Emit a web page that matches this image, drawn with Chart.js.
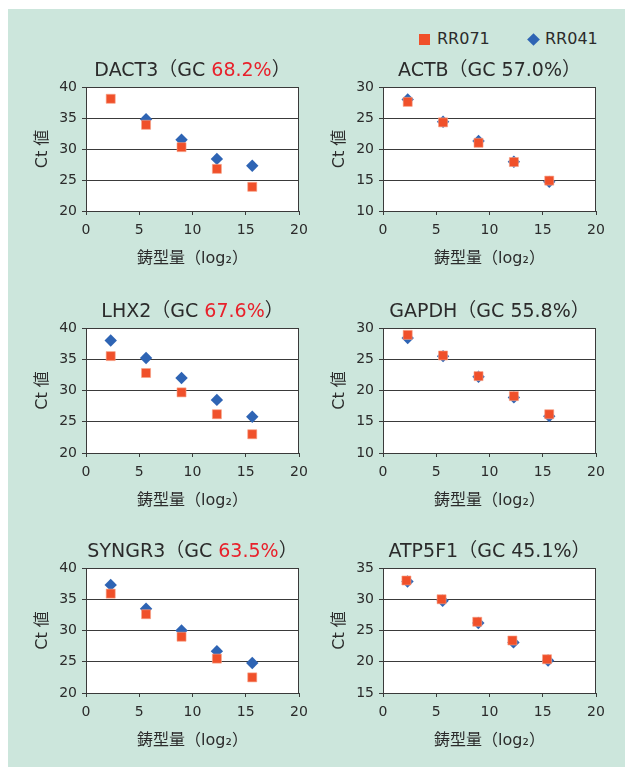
<!DOCTYPE html>
<html lang="ja">
<head>
<meta charset="utf-8">
<title>鋳型量とCt値</title>
<script src="https://cdn.jsdelivr.net/npm/chart.js@4.4.1/dist/chart.umd.min.js"></script>
<style>
  html, body { margin: 0; padding: 0; background: #ffffff; }
  #page { position: relative; width: 625px; height: 767px; overflow: hidden;
          font-family: "DejaVu Sans", "Noto Sans CJK JP", sans-serif; }
  #panel { position: absolute; left: 8px; top: 9px; right: 0; bottom: 0; background: #cce6dc; }
  .chartBox { position: absolute; width: 300px; }
  .chartBox canvas { display: block; }
  .legend { position: absolute; top: 29px; font-size: 16px; color: #2b2b2b; line-height: 20px; }
  .legend span.sym { position: absolute; }
</style>
</head>
<body>
<div id="page">
  <div id="panel"></div>

  <div class="legend" style="left:419px;">
    <span class="sym" style="left:0; top:5px; width:11px; height:11px; background:#f0502a;"></span>
    <span style="position:absolute; left:18px; top:0;">RR071</span>
  </div>
  <div class="legend" style="left:528px;">
    <span class="sym" style="left:1px; top:6px; width:9px; height:9px; background:#2e64b4; transform:rotate(45deg);"></span>
    <span style="position:absolute; left:17px; top:0;">RR041</span>
  </div>

  <div class="chartBox" style="left:20px;  top:50px;"><canvas id="c1" width="300" height="221"></canvas></div>
  <div class="chartBox" style="left:317px; top:50px;"><canvas id="c2" width="300" height="221"></canvas></div>
  <div class="chartBox" style="left:20px;  top:291px;"><canvas id="c3" width="300" height="222"></canvas></div>
  <div class="chartBox" style="left:317px; top:291px;"><canvas id="c4" width="300" height="222"></canvas></div>
  <div class="chartBox" style="left:20px;  top:531px;"><canvas id="c5" width="300" height="222"></canvas></div>
  <div class="chartBox" style="left:317px; top:531px;"><canvas id="c6" width="300" height="222"></canvas></div>
</div>

<script>
// Template amount (log2) for the 5-point dilution series
const templateLog2 = [2.32, 5.64, 8.97, 12.29, 15.61];
const atp5f1Log2RR071 = [2.2, 5.5, 8.85, 12.15, 15.4];
const atp5f1Log2RR041 = [2.3, 5.6, 8.95, 12.25, 15.5];

// Ct values per gene
const dact3RR071 = [38.1, 33.9, 30.3, 26.8, 23.9];
const dact3RR041 = [null, 34.8, 31.5, 28.4, 27.3];
const actbRR071  = [27.6, 24.3, 21.0, 17.9, 14.9];
const actbRR041  = [28.0, 24.4, 21.3, 17.95, 14.7];
const lhx2RR071  = [35.5, 32.8, 29.7, 26.2, 23.0];
const lhx2RR041  = [38.0, 35.2, 32.0, 28.5, 25.8];
const gapdhRR071 = [28.9, 25.6, 22.3, 19.1, 16.2];
const gapdhRR041 = [28.4, 25.5, 22.2, 18.9, 15.9];
const syngr3RR071 = [35.9, 32.6, 29.0, 25.5, 22.5];
const syngr3RR041 = [37.3, 33.5, 30.0, 26.7, 24.8];
const atp5f1RR071 = [33.0, 30.0, 26.4, 23.4, 20.4];
const atp5f1RR041 = [32.85, 29.75, 26.2, 23.1, 20.2];

// Gene titles: name part and GC content (high-GC genes shown in red)
const geneNames = ["DACT3", "ACTB", "LHX2", "GAPDH", "SYNGR3", "ATP5F1"];
const gcContent = ["68.2%", "57.0%", "67.6%", "55.8%", "63.5%", "45.1%"];
const gcHighlight = [true, false, true, false, true, false];

// Y axis ranges
const yMin = [20, 10, 20, 10, 20, 15];
const yMax = [40, 30, 40, 30, 40, 35];

const seriesNames = ["RR071", "RR041"];
const xAxisTitle = "鋳型量（log₂）";
const yAxisTitle = "Ct 値";

const FONT = '"DejaVu Sans", "Noto Sans CJK JP", sans-serif';
const TEXT = '#2b2b2b';
const RED = '#e8212b';

const panels = [
  { id: 'c1', x071: templateLog2, y071: dact3RR071, x041: templateLog2, y041: dact3RR041 },
  { id: 'c2', x071: templateLog2, y071: actbRR071,  x041: templateLog2, y041: actbRR041 },
  { id: 'c3', x071: templateLog2, y071: lhx2RR071,  x041: templateLog2, y041: lhx2RR041 },
  { id: 'c4', x071: templateLog2, y071: gapdhRR071, x041: templateLog2, y041: gapdhRR041 },
  { id: 'c5', x071: templateLog2, y071: syngr3RR071, x041: templateLog2, y041: syngr3RR041 },
  { id: 'c6', x071: atp5f1Log2RR071, y071: atp5f1RR071, x041: atp5f1Log2RR041, y041: atp5f1RR041 },
];

function toPoints(xs, ys) {
  return xs.map((x, i) => ({ x: x, y: ys[i] }));
}

// White plot area with a dark frame, plus a two-colour title above it
const plotFrame = {
  id: 'plotFrame',
  beforeDraw(chart) {
    const { ctx, chartArea: a } = chart;
    ctx.save();
    ctx.fillStyle = '#ffffff';
    ctx.fillRect(a.left, a.top, a.right - a.left, a.bottom - a.top);
    ctx.restore();
  },
  afterDraw(chart, args, opts) {
    const { ctx, chartArea: a } = chart;
    ctx.save();
    ctx.strokeStyle = '#3a3a3a';
    ctx.lineWidth = 1;
    ctx.strokeRect(Math.round(a.left) + 0.5, Math.round(a.top) + 0.5,
                   Math.round(a.right - a.left) - 1, Math.round(a.bottom - a.top));
    // Title: "NAME（GC " in dark, value in red if highlighted, then "）"
    const parts = [
      { t: opts.name + '（GC ', c: TEXT },
      { t: opts.gc, c: opts.highlight ? RED : TEXT },
      { t: '）', c: TEXT },
    ];
    ctx.font = '19px ' + FONT;
    ctx.textBaseline = 'middle';
    ctx.textAlign = 'left';
    const total = parts.reduce((s, p) => s + ctx.measureText(p.t).width, 0);
    let x = (a.left + a.right) / 2 - total / 2;
    const y = a.top - 16;
    parts.forEach(p => {
      ctx.fillStyle = p.c;
      ctx.fillText(p.t, x, y);
      x += ctx.measureText(p.t).width;
    });
    ctx.restore();
  }
};

panels.forEach((p, i) => {
  new Chart(document.getElementById(p.id), {
    type: 'scatter',
    data: {
      datasets: [
        {
          label: seriesNames[0],
          data: toPoints(p.x071, p.y071),
          pointStyle: 'rect',
          pointRadius: 6.4,
          pointHoverRadius: 6.4,
          backgroundColor: '#f0502a',
          borderColor: '#f7a58a',
          borderWidth: 0.6,
        },
        {
          label: seriesNames[1],
          data: toPoints(p.x041, p.y041),
          pointStyle: 'rectRot',
          pointRadius: 6.2,
          pointHoverRadius: 6.2,
          backgroundColor: '#2e64b4',
          borderColor: '#2e64b4',
          borderWidth: 0,
        }
      ]
    },
    options: {
      responsive: false,
      animation: false,
      events: [],
      layout: { padding: { top: 37, right: 21, bottom: 0, left: 0 } },
      plugins: {
        legend: { display: false },
        tooltip: { enabled: false },
        title: { display: false },
        plotFrame: { name: geneNames[i], gc: gcContent[i], highlight: gcHighlight[i] },
      },
      scales: {
        x: {
          type: 'linear',
          min: 0, max: 20,
          afterFit(scale) { scale.height = 60; },
          ticks: { stepSize: 5, color: TEXT, font: { family: FONT, size: 14 }, padding: 7, maxRotation: 0 },
          grid: { display: true, drawOnChartArea: false, drawTicks: true, tickLength: 4, color: '#3a3a3a' },
          border: { display: true, color: '#3a3a3a' },
          title: { display: true, text: xAxisTitle, color: TEXT, font: { family: FONT, size: 16 }, padding: { top: 0, bottom: 3 } },
        },
        y: {
          min: yMin[i], max: yMax[i],
          afterFit(scale) { scale.width = 66; },
          ticks: { stepSize: 5, color: TEXT, font: { family: FONT, size: 14 }, padding: 5 },
          grid: { display: true, drawOnChartArea: true, drawTicks: true, tickLength: 4, color: '#3a3a3a' },
          border: { display: true, color: '#3a3a3a' },
          title: { display: true, text: yAxisTitle, color: TEXT, font: { family: FONT, size: 16 }, padding: { top: 13, bottom: 0 } },
        }
      }
    },
    plugins: [plotFrame]
  });
});
</script>
</body>
</html>
